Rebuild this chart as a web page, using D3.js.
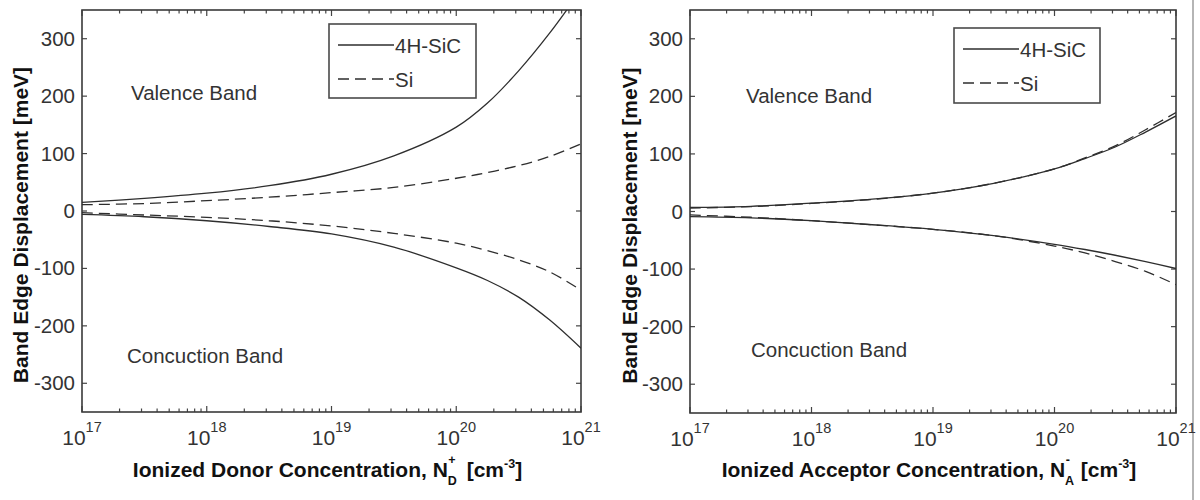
<!DOCTYPE html>
<html>
<head>
<meta charset="utf-8">
<script src="https://cdn.jsdelivr.net/npm/d3@7"></script>
<style>
  html, body { margin: 0; padding: 0; background: #fff; }
  svg { display: block; }
  text { font-family: "Liberation Sans", Arial, Helvetica, sans-serif; }
</style>
</head>
<body>
<svg id="chart" width="1200" height="500"></svg>
<script>
// ---------------- data ----------------
const concentration = [1e17, 3.16e17, 1e18, 3.16e18, 1e19, 3.16e19, 1e20, 1.78e20, 3.16e20, 5.62e20, 1e21];

// Left panel: ionized donors
const donorSiC_valence   = [15, 22, 31, 44, 64, 96, 146, 188, 244, 310, 385];
const donorSi_valence    = [11, 13, 18, 24, 32, 41, 57, 67, 79, 95, 117];
const donorSiC_conduction = [-6, -10, -17, -27, -40, -63, -99, -121, -150, -190, -239];
const donorSi_conduction  = [-3, -7, -11, -17, -26, -39, -56, -69, -85, -106, -138];

// Right panel: ionized acceptors
const acceptorSiC_valence   = [7, 9, 14.5, 21.5, 32, 49, 74, 92, 112, 138, 166];
const acceptorSi_valence    = [6, 8.5, 14, 21, 32, 49, 74, 93, 114, 142, 172];
const acceptorSiC_conduction = [-9, -11, -16, -23, -31, -42, -57, -66, -76, -87, -99];
const acceptorSi_conduction  = [-6, -10, -16, -23, -31, -42, -60, -72, -87, -104, -127];

const xTickExponents = [17, 18, 19, 20, 21];
const yTickValues = [-300, -200, -100, 0, 100, 200, 300];
const seriesNames = ["4H-SiC", "Si"];
const bandLabels = ["Valence Band", "Concuction Band"];
const yAxisTitle = "Band Edge Displacement [meV]";

// ---------------- drawing ----------------
const svg = d3.select("#chart");
const ink = "#2e2e2e";

// light figure border at right edge
svg.append("line").attr("x1", 1193).attr("x2", 1193).attr("y1", 0).attr("y2", 500)
  .attr("stroke", "#b5b5b5").attr("stroke-width", 2);

function drawPanel(cfg) {
  const x = d3.scaleLog().domain([1e17, 1e21]).range([cfg.x0, cfg.x1]);
  const y = d3.scaleLinear().domain([-350, 350]).range([cfg.y1, cfg.y0]);
  const g = svg.append("g");

  const clipId = "clip" + cfg.id;
  svg.append("clipPath").attr("id", clipId).append("rect")
    .attr("x", cfg.x0).attr("y", cfg.y0).attr("width", cfg.x1 - cfg.x0).attr("height", cfg.y1 - cfg.y0);

  // ticks (inward, all four sides)
  const minor = [];
  for (let e = 17; e < 21; e++) for (let m = 2; m <= 9; m++) minor.push(m * Math.pow(10, e));
  const majors = xTickExponents.map(e => Math.pow(10, e));
  const tk = g.append("g").attr("stroke", "#444").attr("stroke-width", 1.2);
  majors.forEach(v => {
    tk.append("line").attr("x1", x(v)).attr("x2", x(v)).attr("y1", cfg.y1).attr("y2", cfg.y1 - 6);
    tk.append("line").attr("x1", x(v)).attr("x2", x(v)).attr("y1", cfg.y0).attr("y2", cfg.y0 + 6);
  });
  minor.forEach(v => {
    tk.append("line").attr("x1", x(v)).attr("x2", x(v)).attr("y1", cfg.y1).attr("y2", cfg.y1 - 3.5);
    tk.append("line").attr("x1", x(v)).attr("x2", x(v)).attr("y1", cfg.y0).attr("y2", cfg.y0 + 3.5);
  });
  yTickValues.forEach(v => {
    tk.append("line").attr("x1", cfg.x0).attr("x2", cfg.x0 + 5).attr("y1", y(v)).attr("y2", y(v));
    tk.append("line").attr("x1", cfg.x1).attr("x2", cfg.x1 - 5).attr("y1", y(v)).attr("y2", y(v));
  });

  // frame
  g.append("rect").attr("x", cfg.x0).attr("y", cfg.y0)
    .attr("width", cfg.x1 - cfg.x0).attr("height", cfg.y1 - cfg.y0)
    .attr("fill", "none").attr("stroke", "#3a3a3a").attr("stroke-width", 1.6);

  // y tick labels
  g.append("g").selectAll("text").data(yTickValues).join("text")
    .attr("x", cfg.x0 - 7).attr("y", d => y(d) + 7)
    .attr("text-anchor", "end").attr("font-size", 20.5).attr("fill", "#333")
    .text(d => d);

  // x tick labels 10^n
  const xl = g.append("g").selectAll("text").data(xTickExponents).join("text")
    .attr("x", d => x(Math.pow(10, d)))
    .attr("y", cfg.y1 + 33)
    .attr("text-anchor", "middle").attr("font-size", 21).attr("fill", "#333");
  xl.append("tspan").text("10");
  xl.append("tspan").attr("dy", -13).attr("font-size", 14.5).text(d => d);

  // curves
  const line = d3.line().x((d, i) => x(concentration[i])).y(d => y(d)).curve(d3.curveCatmullRom.alpha(0.5));
  const cg = g.append("g").attr("clip-path", `url(#${clipId})`).attr("fill", "none");
  cfg.series.forEach(s => {
    cg.append("path").datum(s.values).attr("d", line)
      .attr("stroke", ink).attr("stroke-width", 1.3)
      .attr("stroke-dasharray", s.dashed ? "11,6" : null);
  });

  // band annotations
  g.append("text").attr("x", cfg.vb[0]).attr("y", cfg.vb[1]).attr("font-size", 20.5).attr("fill", "#333").text(bandLabels[0]);
  g.append("text").attr("x", cfg.cb[0]).attr("y", cfg.cb[1]).attr("font-size", 20.5).attr("fill", "#333").text(bandLabels[1]);

  // legend
  const lg = cfg.legend;
  g.append("rect").attr("x", lg.x).attr("y", lg.y).attr("width", lg.w).attr("height", lg.h)
    .attr("fill", "#fff").attr("stroke", "#4a4a4a").attr("stroke-width", 1.6);
  seriesNames.forEach((name, i) => {
    const ly = lg.y + (i === 0 ? 21 : 55);
    g.append("line").attr("x1", lg.x + 9).attr("x2", lg.x + 65).attr("y1", ly).attr("y2", ly)
      .attr("stroke", ink).attr("stroke-width", 1.3).attr("stroke-dasharray", i === 1 ? "11,6" : null);
    g.append("text").attr("x", lg.x + 66).attr("y", ly + 7.5).attr("font-size", 20.5).attr("fill", "#333").text(name);
  });

  // y axis title
  g.append("text").attr("transform", `translate(${cfg.ytx},${(cfg.y0 + cfg.y1) / 2 + 14}) rotate(-90)`)
    .attr("text-anchor", "middle").attr("font-size", 21).attr("font-weight", "bold").attr("fill", "#111")
    .text(yAxisTitle);

  // x axis title: main text, stacked sub/superscript, units
  const xt = g.append("text").attr("x", (cfg.x0 + cfg.x1) / 2 - 4).attr("y", 477)
    .attr("text-anchor", "middle").attr("font-size", 21).attr("font-weight", "bold").attr("fill", "#111");
  xt.append("tspan").text(cfg.xTitle[0]);
  xt.append("tspan").attr("dy", 8).attr("font-size", 12.5).text(cfg.xTitle[2]);
  xt.append("tspan").attr("dx", -8.5).attr("dy", -21).attr("font-size", 12.5).text(cfg.xTitle[1]);
  xt.append("tspan").attr("dx", 11).attr("dy", 13).text("[cm");
  xt.append("tspan").attr("dy", -9).attr("font-size", 12.5).text("-3");
  xt.append("tspan").attr("dy", 9).text("]");
}

drawPanel({
  id: "L", x0: 82, x1: 581, y0: 10, y1: 412, ytx: 28,
  series: [
    { values: donorSiC_valence, dashed: false },
    { values: donorSi_valence, dashed: true },
    { values: donorSiC_conduction, dashed: false },
    { values: donorSi_conduction, dashed: true }
  ],
  vb: [131, 100], cb: [127, 363],
  legend: { x: 329, y: 24, w: 147, h: 74 },
  xTitle: ["Ionized Donor Concentration, N", "+", "D"]
});

drawPanel({
  id: "R", x0: 690, x1: 1176, y0: 10, y1: 413, ytx: 637,
  series: [
    { values: acceptorSiC_valence, dashed: false },
    { values: acceptorSi_valence, dashed: true },
    { values: acceptorSiC_conduction, dashed: false },
    { values: acceptorSi_conduction, dashed: true }
  ],
  vb: [746, 103], cb: [751, 357],
  legend: { x: 954, y: 28, w: 146, h: 75 },
  xTitle: ["Ionized Acceptor Concentration, N", "-", "A"]
});
</script>
</body>
</html>
